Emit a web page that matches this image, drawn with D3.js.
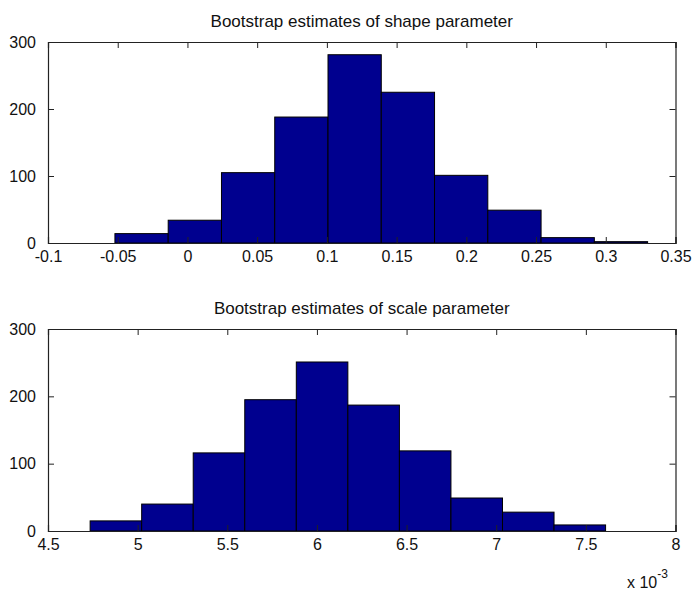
<!DOCTYPE html>
<html>
<head>
<meta charset="utf-8">
<script src="https://cdn.jsdelivr.net/npm/d3@7"></script>
<style>
  html, body { margin: 0; padding: 0; background: #fff; }
  svg { display: block; }
  text { font-family: "Liberation Sans", Arial, Helvetica, sans-serif; fill: #111; }
</style>
</head>
<body>
<svg id="fig" width="694" height="591"></svg>
<script>
// Bootstrap histogram of the shape parameter
const shapeEdges  = [-0.052, -0.0138, 0.0244, 0.0626, 0.1008, 0.139, 0.1772, 0.2154, 0.2536, 0.2918, 0.330];
const shapeCounts = [14, 34, 105, 188, 281, 225, 101, 49, 8, 2];
const shapeTicks  = [-0.1, -0.05, 0, 0.05, 0.1, 0.15, 0.2, 0.25, 0.3, 0.35];

// Bootstrap histogram of the scale parameter
const scaleEdges  = [0.004735, 0.0050225, 0.00531, 0.0055975, 0.005885, 0.0061725, 0.00646, 0.0067475, 0.007035, 0.0073225, 0.00761];
const scaleCounts = [15, 40, 116, 195, 251, 187, 119, 49, 28, 9];
const scaleTicks  = [0.0045, 0.005, 0.0055, 0.006, 0.0065, 0.007, 0.0075, 0.008];

const countTicks = [0, 100, 200, 300];

const svg = d3.select("#fig");
const TICK = 6;

function panel(opts) {
  const { left, right, top, bottom, xDomain, xTicks, xFmt, edges, counts, title } = opts;
  const x = d3.scaleLinear().domain(xDomain).range([left, right]);
  const y = d3.scaleLinear().domain([0, 300]).range([bottom, top]);
  const g = svg.append("g");

  const bins = counts.map((c, i) => ({ x0: edges[i], x1: edges[i + 1], n: c }));

  // white plot area
  g.append("rect")
    .attr("x", left).attr("y", top)
    .attr("width", right - left).attr("height", bottom - top)
    .attr("fill", "#fff");

  // histogram bars
  g.append("g").selectAll("rect").data(bins).join("rect")
    .attr("x", d => x(d.x0))
    .attr("y", d => y(d.n))
    .attr("width", d => x(d.x1) - x(d.x0))
    .attr("height", d => y(0) - y(d.n))
    .attr("fill", "#00008f")
    .attr("stroke", "#000")
    .attr("stroke-width", 1);

  // box axes, ticks pointing inward on all four sides
  const xb = d3.axisBottom(x).tickValues(xTicks).tickSize(-TICK).tickPadding(8).tickFormat(xFmt);
  const xt = d3.axisTop(x).tickValues(xTicks).tickSize(-TICK).tickFormat("");
  const yl = d3.axisLeft(y).tickValues(countTicks).tickSize(-TICK).tickPadding(12).tickFormat(d3.format("d"));
  const yr = d3.axisRight(y).tickValues(countTicks).tickSize(-TICK).tickFormat("");

  const styleAxis = sel => {
    sel.select(".domain").attr("stroke", "#222").attr("stroke-width", 1.2);
    sel.selectAll(".tick line").attr("stroke", "#222").attr("stroke-width", 1);
    sel.selectAll("text").attr("font-size", 16).attr("fill", "#111")
      .attr("font-family", "'Liberation Sans', Arial, sans-serif");
  };

  g.append("g").attr("transform", `translate(0,${bottom})`).call(xb).call(styleAxis);
  g.append("g").attr("transform", `translate(0,${top})`).call(xt).call(styleAxis);
  g.append("g").attr("transform", `translate(${left},0)`).call(yl).call(styleAxis);
  g.append("g").attr("transform", `translate(${right},0)`).call(yr).call(styleAxis);

  g.append("text")
    .attr("x", (left + right) / 2)
    .attr("y", top - 15)
    .attr("text-anchor", "middle")
    .attr("font-size", 17)
    .text(title);

  return { x, y, g };
}

panel({
  left: 48, right: 675.5, top: 42, bottom: 243,
  xDomain: [-0.1, 0.35], xTicks: shapeTicks,
  xFmt: v => String(+v.toFixed(2)),
  edges: shapeEdges, counts: shapeCounts,
  title: "Bootstrap estimates of shape parameter"
});

panel({
  left: 48, right: 675.5, top: 329, bottom: 531,
  xDomain: [0.0045, 0.008], xTicks: scaleTicks,
  xFmt: v => String(+(v * 1000).toFixed(1)),
  edges: scaleEdges, counts: scaleCounts,
  title: "Bootstrap estimates of scale parameter"
});

// axis exponent label
const expo = svg.append("text")
  .attr("x", 627).attr("y", 588)
  .attr("font-size", 16);
expo.append("tspan").text("x 10");
expo.append("tspan").attr("dy", -10).attr("font-size", 12).text("-3");
</script>
</body>
</html>
